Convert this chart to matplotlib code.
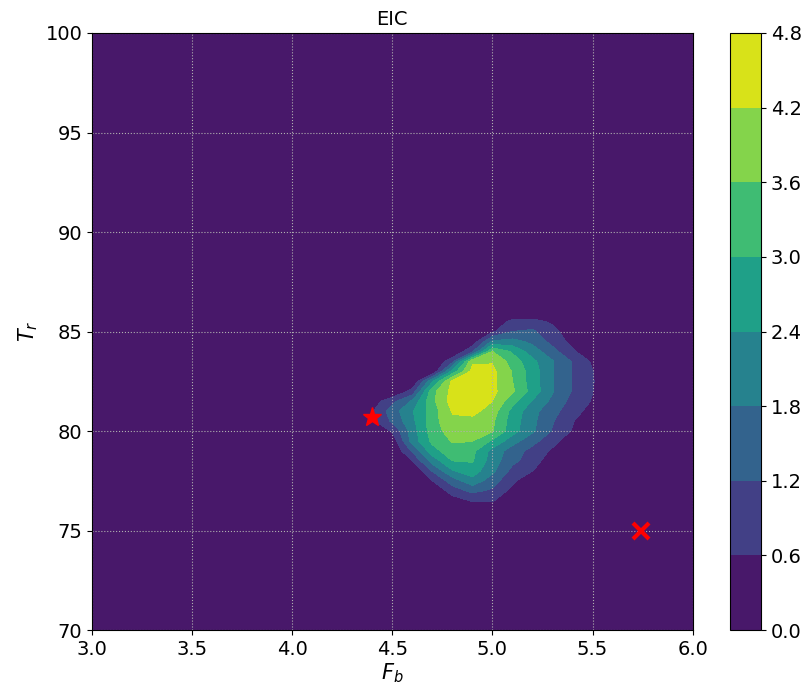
import numpy as np
import matplotlib
matplotlib.use('Agg')
import matplotlib.pyplot as plt

# EIC sampled on a grid around the feasible optimum
fb_vals = [4.3, 4.4, 4.5, 4.6, 4.7, 4.8, 4.9, 5.0, 5.1, 5.2, 5.3, 5.4, 5.5, 5.6, 5.7]
tr_vals = [76.0, 76.5, 77.0, 77.5, 78.0, 78.5, 79.0, 79.5, 80.0, 80.5, 81.0,
           81.5, 82.0, 82.5, 83.0, 83.5, 84.0, 84.5, 85.0, 85.5, 86.0]
eic_rows = [
    # 4.3 4.4   4.5   4.6   4.7   4.8   4.9   5.0   5.1   5.2   5.3   5.4   5.5  5.6  5.7
    [0.0, 0.00, 0.00, 0.00, 0.00, 0.00, 0.00, 0.00, 0.00, 0.00, 0.00, 0.00, 0.00, 0.0, 0.0],  # 76.0
    [0.0, 0.00, 0.00, 0.00, 0.00, 0.30, 0.65, 0.65, 0.10, 0.00, 0.00, 0.00, 0.00, 0.0, 0.0],  # 76.5
    [0.0, 0.00, 0.00, 0.00, 0.00, 0.90, 1.35, 1.10, 0.40, 0.00, 0.00, 0.00, 0.00, 0.0, 0.0],  # 77.0
    [0.0, 0.00, 0.00, 0.00, 0.60, 1.50, 2.20, 1.45, 0.75, 0.00, 0.00, 0.00, 0.00, 0.0, 0.0],  # 77.5
    [0.0, 0.00, 0.00, 0.00, 1.25, 2.35, 2.70, 1.95, 1.00, 0.62, 0.00, 0.00, 0.00, 0.0, 0.0],  # 78.0
    [0.0, 0.00, 0.00, 0.60, 2.05, 3.00, 3.05, 2.10, 1.35, 0.90, 0.20, 0.00, 0.00, 0.0, 0.0],  # 78.5
    [0.0, 0.00, 0.00, 1.30, 2.75, 3.40, 3.15, 2.20, 1.50, 1.00, 0.50, 0.00, 0.00, 0.0, 0.0],  # 79.0
    [0.0, 0.00, 0.20, 2.05, 3.15, 3.65, 3.62, 2.90, 2.05, 1.40, 0.80, 0.20, 0.00, 0.0, 0.0],  # 79.5
    [0.0, 0.00, 0.67, 2.10, 3.30, 3.90, 3.85, 3.65, 2.65, 1.90, 1.15, 0.55, 0.00, 0.0, 0.0],  # 80.0
    [0.0, 0.50, 1.30, 2.25, 3.35, 4.10, 4.00, 3.70, 2.70, 1.95, 1.25, 0.65, 0.00, 0.0, 0.0],  # 80.5
    [0.0, 0.55, 1.50, 2.35, 3.30, 4.25, 4.40, 3.90, 2.80, 2.00, 1.40, 0.85, 0.35, 0.0, 0.0],  # 81.0
    [0.0, 0.30, 1.00, 1.90, 3.45, 4.45, 4.65, 4.20, 3.20, 2.35, 1.65, 1.00, 0.55, 0.0, 0.0],  # 81.5
    [0.0, 0.00, 0.00, 0.80, 3.40, 4.40, 4.75, 4.35, 3.70, 2.75, 1.85, 1.15, 0.62, 0.0, 0.0],  # 82.0
    [0.0, 0.00, 0.00, 0.00, 2.30, 4.35, 4.70, 4.35, 3.60, 2.70, 1.85, 1.15, 0.65, 0.0, 0.0],  # 82.5
    [0.0, 0.00, 0.00, 0.00, 0.00, 2.60, 4.40, 4.35, 3.55, 2.70, 1.85, 1.15, 0.62, 0.0, 0.0],  # 83.0
    [0.0, 0.00, 0.00, 0.00, 0.00, 1.00, 4.10, 4.15, 3.35, 2.55, 1.85, 1.15, 0.50, 0.0, 0.0],  # 83.5
    [0.0, 0.00, 0.00, 0.00, 0.00, 0.00, 1.10, 3.60, 2.90, 2.10, 1.40, 0.70, 0.10, 0.0, 0.0],  # 84.0
    [0.0, 0.00, 0.00, 0.00, 0.00, 0.00, 0.20, 1.90, 2.00, 1.65, 1.00, 0.40, 0.00, 0.0, 0.0],  # 84.5
    [0.0, 0.00, 0.00, 0.00, 0.00, 0.00, 0.00, 0.50, 1.20, 1.30, 0.80, 0.20, 0.00, 0.0, 0.0],  # 85.0
    [0.0, 0.00, 0.00, 0.00, 0.00, 0.00, 0.00, 0.20, 0.75, 0.80, 0.50, 0.00, 0.00, 0.0, 0.0],  # 85.5
    [0.0, 0.00, 0.00, 0.00, 0.00, 0.00, 0.00, 0.00, 0.00, 0.00, 0.00, 0.00, 0.00, 0.0, 0.0],  # 86.0
]
eic_levels = [0.0, 0.6, 1.2, 1.8, 2.4, 3.0, 3.6, 4.2, 4.8]

best_point = (4.4, 80.7)     # best feasible sample so far
next_point = (5.74, 75.0)    # proposed next sample

fb_lim = (3.0, 6.0)
tr_lim = (70, 100)

# pad the grid out to the plot limits with zero EIC
fb = np.concatenate([[fb_lim[0]], fb_vals, [fb_lim[1]]])
tr = np.concatenate([[tr_lim[0]], tr_vals, [tr_lim[1]]])
eic = np.pad(np.array(eic_rows), 1)

fig = plt.figure(figsize=(8.03, 6.86), dpi=100)
ax = fig.add_axes([0.1146, 0.0816, 0.748, 0.8703])
cax = fig.add_axes([0.9091, 0.0816, 0.0386, 0.8703])

cs = ax.contourf(fb, tr, eic, levels=eic_levels, cmap='viridis')
ax.plot(*best_point, marker='*', color='red', markersize=14, linestyle='none')
ax.plot(*next_point, marker='x', color='red', markersize=12, mew=3, linestyle='none')

ax.set_xlim(fb_lim)
ax.set_ylim(tr_lim)
ax.grid(True, linestyle=':', color='#b0b0b0', linewidth=0.8)
ax.set_xlabel('$F_b$', fontsize=15, labelpad=2)
ax.set_ylabel('$T_r$', fontsize=15)
ax.set_title('EIC', fontsize=14)
ax.tick_params(labelsize=14)

cb = fig.colorbar(cs, cax=cax)
cb.set_ticks(eic_levels)
cb.ax.tick_params(labelsize=14)

fig.savefig('out.png', dpi=100)
